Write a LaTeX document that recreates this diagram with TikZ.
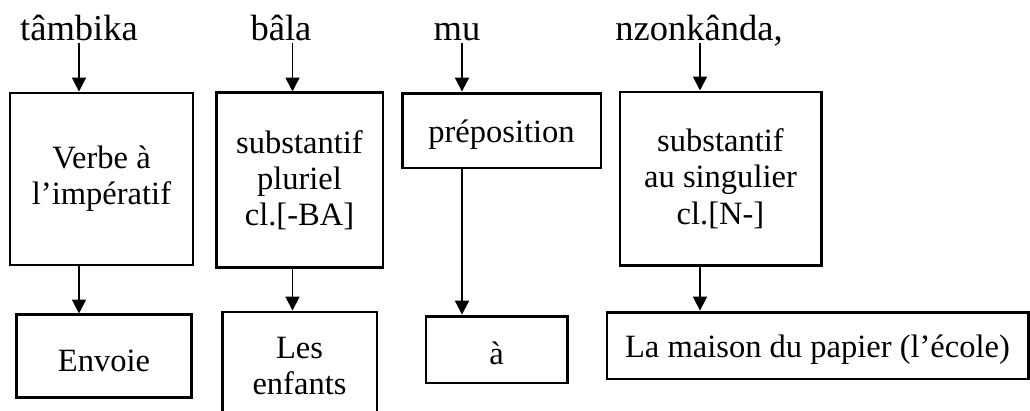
\documentclass[tikz,border=0pt]{standalone}
\usepackage{fontspec}
\setmainfont{Liberation Serif}
\usetikzlibrary{arrows.meta}

\begin{document}
\begin{tikzpicture}[x=0.375pt, y=-0.375pt,
    font=\fontsize{12.2}{13.6}\selectfont,
    mot/.style={font=\fontsize{13.7}{16}\selectfont, text depth=0pt,
      inner sep=1pt},
    b/.style={rectangle, draw, line width=1.1pt, align=center, inner sep=2pt,
      execute at begin node={\rule{0pt}{11.4pt}}},
    fl/.style={-{Triangle[length=5.2pt, width=5.2pt]}, line width=0.7pt}]
    \useasboundingbox (0,0) rectangle (1030,411);
    % mots kikongo
    \node[mot, anchor=base] (w1) at (79,40)  {tâmbika};
    \node[mot, anchor=base] (w2) at (281,40) {bâla};
    \node[mot, anchor=base] (w3) at (457,40) {mu};
    \node[mot, anchor=base] (w4) at (699,40) {nzonkânda,};
    % analyse
    \node[b, minimum width=68.6pt, minimum height=64.5pt] (t1) at (101.5,179)
      {Verbe à\\ l’impératif};
    \node[b, minimum width=62.6pt, minimum height=65.3pt] (t2) at (299.5,180)
      {substantif\\ pluriel\\ cl.[-BA]};
    \node[b, minimum width=74.6pt, minimum height=28.1pt] (t3) at (501.5,130.5)
      {préposition};
    \node[b, minimum width=75.4pt, minimum height=64.9pt] (t4) at (720.5,178.5)
      {substantif\\ au singulier\\ cl.[N-]};
    % traduction
    \node[b, minimum width=65.3pt, minimum height=30.8pt] (b1) at (104,356)
      {Envoie};
    \node[b, minimum width=58.1pt, minimum height=40.5pt] (b2) at (299.5,366)
      {Les\\ enfants};
    \node[b, minimum width=52.9pt, minimum height=25.1pt] (b3) at (496.5,349.5)
      {à};
    \node[b, minimum width=157.9pt, minimum height=25.1pt] (b4) at (817.5,345.5)
      {La maison du papier (l’école)};
    % axes des fleches
    \coordinate (a1) at (79,0);
    \coordinate (a2) at (292.5,0);
    \coordinate (a3) at (462,0);
    \coordinate (a4) at (700,0);
    \draw[fl] (a1 |- w1.south) -- (a1 |- t1.north);
    \draw[fl] (a2 |- w2.south) -- (a2 |- t2.north);
    \draw[fl] (a3 |- w3.south) -- (a3 |- t3.north);
    \draw[fl] (a4 |- w4.south) -- (a4 |- t4.north);
    \draw[fl] (a1 |- t1.south) -- (a1 |- b1.north);
    \draw[fl] (a2 |- t2.south) -- (a2 |- b2.north);
    \draw[fl] (a3 |- t3.south) -- (a3 |- b3.north);
    \draw[fl] (a4 |- t4.south) -- (a4 |- b4.north);
  \end{tikzpicture}
\end{document}
